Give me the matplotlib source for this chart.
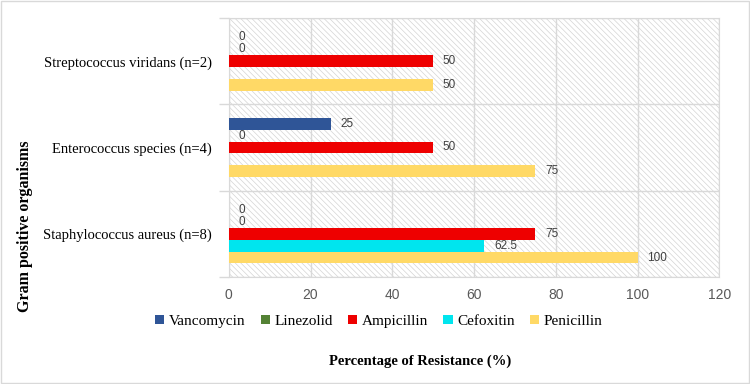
import numpy as np
import matplotlib
matplotlib.use("Agg")
import matplotlib.pyplot as plt
from matplotlib.patches import Rectangle

# data (bottom to top on the chart)
organisms = ["Staphylococcus aureus (n=8)", "Enterococcus species (n=4)",
             "Streptococcus viridans (n=2)"]
antibiotics = ["Vancomycin", "Linezolid", "Ampicillin", "Cefoxitin", "Penicillin"]
vancomycin = [0, 25, 0]
linezolid = [0, 0, 0]
ampicillin = [75, 50, 50]
cefoxitin = [62.5, np.nan, np.nan]
penicillin = [100, 75, 50]
series = [vancomycin, linezolid, ampicillin, cefoxitin, penicillin]
colors = ["#2F5597", "#548235", "#EE0000", "#00E5EE", "#FFD966"]
xticks = [0, 20, 40, 60, 80, 100, 120]

plt.rcParams['hatch.linewidth'] = 0.5
fig = plt.figure(figsize=(7.5, 3.84), dpi=100)
ax = fig.add_axes([0.305, 0.279, 0.654, 0.674])

# hatched plot background
ax.add_patch(Rectangle((0, 0), 1, 1, transform=ax.transAxes, facecolor="white",
                       hatch="\\\\\\\\\\\\", edgecolor="#d4d4d4", lw=0, zorder=0))

y = np.arange(len(organisms))
h = 0.138
for i, (name, vals, c) in enumerate(zip(antibiotics, series, colors)):
    pos = y + (2 - i) * h
    v = np.array(vals, dtype=float)
    ax.barh(pos, np.nan_to_num(v), height=h, color=c, label=name, zorder=3)
    for p, val in zip(pos, v):
        if np.isnan(val):
            continue
        ax.annotate(f"{val:g}", (val, p), xytext=(7, 0), textcoords="offset points",
                    va="center", ha="left", fontsize=8.5, color="#404040",
                    family="Liberation Sans", zorder=4)

ax.set_xlim(0, 120)
ax.set_ylim(-0.5, 2.5)
ax.set_xticks(xticks)
ax.set_yticks(y)
ax.set_yticklabels(organisms, family="Liberation Serif", fontsize=10.5, color="black")
ax.set_yticks([-0.5, 0.5, 1.5, 2.5], minor=True)
ax.tick_params(axis="y", which="major", length=0, pad=12)
ax.tick_params(axis="y", which="minor", length=7, color="#d9d9d9", width=1)
ax.tick_params(axis="x", length=0, labelsize=10, labelcolor="#595959", pad=8)
for lbl in ax.get_xticklabels():
    lbl.set_family("Liberation Sans")

ax.grid(axis="x", color="#d9d9d9", lw=1, zorder=1)
ax.grid(axis="y", which="minor", color="#d9d9d9", lw=1, zorder=1)
ax.grid(axis="y", which="major", visible=False)
for s in ["top", "right", "bottom", "left"]:
    ax.spines[s].set_color("#d9d9d9")

ax.legend(loc="center", bbox_to_anchor=(0.505, 0.163), bbox_transform=fig.transFigure,
          ncol=5, frameon=False, prop={"family": "Liberation Serif", "size": 11},
          handlelength=0.6, handleheight=0.6, handletextpad=0.3, columnspacing=1.0)

fig.text(0.56, 0.06, "Percentage of Resistance (%)", ha="center", va="center",
         family="Liberation Serif", fontsize=10.5, fontweight="bold")
fig.text(0.033, 0.41, "Gram positive organisms", ha="center", va="center",
         rotation=90, family="Liberation Serif", fontsize=11.5, fontweight="bold")

fig.patches.append(Rectangle((0.001, 0.002), 0.997, 0.996, transform=fig.transFigure,
                             fill=False, edgecolor="#d9d9d9", lw=1))

fig.savefig("out.png", dpi=100)
